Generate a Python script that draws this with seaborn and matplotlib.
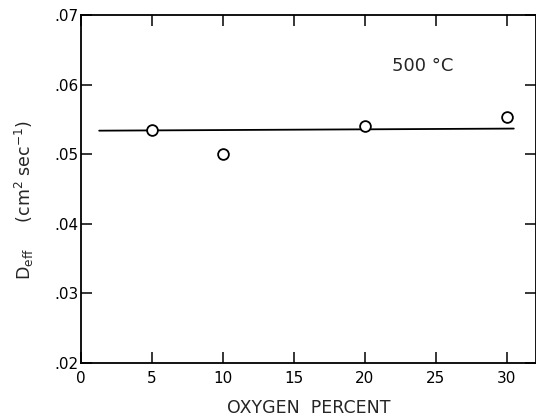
import matplotlib
matplotlib.use("Agg")
import matplotlib.pyplot as plt
import seaborn as sns
import pandas as pd

# Measured effective diffusivity vs. oxygen content at 500 °C
oxygen_pct = [5, 10, 20, 30]
d_eff = [0.0535, 0.0500, 0.0540, 0.0553]

# Fitted (nearly constant) line
fit_x = [1.3, 30.5]
fit_y = [0.0534, 0.0537]

x_ticks = [0, 5, 10, 15, 20, 25, 30]
y_ticks = [0.02, 0.03, 0.04, 0.05, 0.06, 0.07]
y_tick_labels = [".02", ".03", ".04", ".05", ".06", ".07"]

sns.set_style("ticks")
plt.rcParams["font.family"] = ["DejaVu Sans"]

fig = plt.figure(figsize=(5.36, 4.19), dpi=100)
ax = fig.add_axes([0.1506, 0.1337, 0.849, 0.830])

df = pd.DataFrame({"x": oxygen_pct, "y": d_eff})
fit = pd.DataFrame({"x": fit_x, "y": fit_y})

sns.lineplot(data=fit, x="x", y="y", ax=ax, color="black", linewidth=1.3)
sns.scatterplot(data=df, x="x", y="y", ax=ax, marker="o", s=60,
                facecolor="white", edgecolor="black", linewidth=1.3, zorder=3)

ax.set_xlim(0, 32.05)
ax.set_ylim(0.02, 0.07)
ax.set_xticks(x_ticks)
ax.set_xticklabels([str(t) for t in x_ticks])
ax.set_yticks(y_ticks)
ax.set_yticklabels(y_tick_labels)

ax.tick_params(direction="in", length=8, width=1.1, labelsize=11,
               top=True, right=True, colors="black")
ax.tick_params(axis="x", pad=6)
ax.tick_params(axis="y", pad=1.5)
for s in ax.spines.values():
    s.set_linewidth(1.3)
    s.set_color("black")

ax.set_xlabel("")
ax.set_ylabel("")
fig.text(0.5755, 0.026, "OXYGEN  PERCENT", fontsize=12.5,
         ha="center", va="center")
fig.text(0.045, 0.523, r"D$_{\rm eff}$     (cm$^2$ sec$^{-1}$)", rotation=90,
         ha="center", va="center", fontsize=12.5)

ax.text(24.1, 0.0627, "500 °C", fontsize=13, ha="center", va="center")

fig.savefig("out.png", dpi=100, facecolor="white")
